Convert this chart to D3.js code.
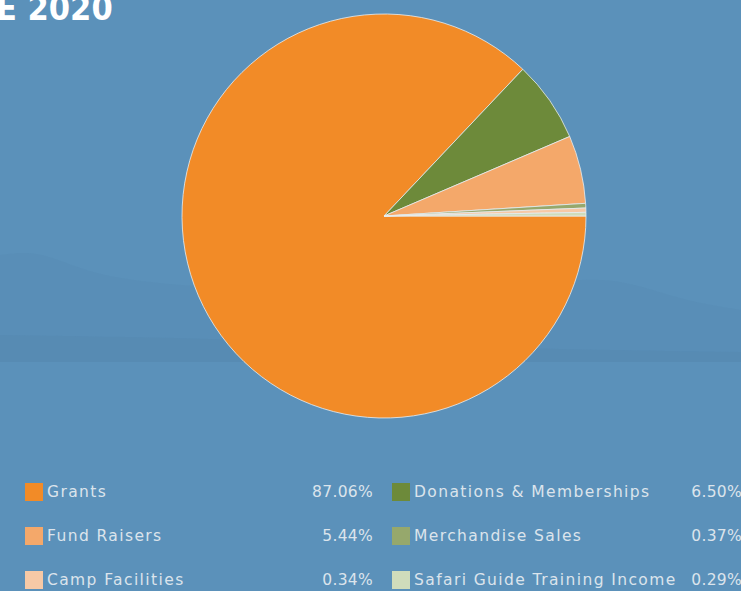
<!DOCTYPE html>
<html>
  <head>
    <style>
      body { margin: 0; background: #5b91ba; }
      svg { display: block; }
      .title { font-family: "DejaVu Sans Condensed", "DejaVu Sans", sans-serif; font-weight: bold; fill: #ffffff; }
      .legend text { font-family: "DejaVu Sans", sans-serif; font-size: 15.5px; fill: #dbe4ec; }
      .legend text.name { letter-spacing: 1.4px; }
      .legend text.value { letter-spacing: 0.3px; }
    </style>
  </head>
  <body>
    <script src="https://d3js.org/d3.v7.min.js"></script>
    <div id="chart"></div>
    <script>
      // Income sources, percentages of total
      var categories = ["Grants", "Donations & Memberships", "Fund Raisers",
                        "Merchandise Sales", "Camp Facilities", "Safari Guide Training Income"];
      var values = [87.06, 6.50, 5.44, 0.37, 0.34, 0.29];
      var valueLabels = ["87.06%", "6.50%", "5.44%", "0.37%", "0.34%", "0.29%"];
      var colors = ["#f28b27", "#6d8a3a", "#f4a86a", "#96a86c", "#f6c9a6", "#d0dcbb"];

      // legend is laid out in two columns, row by row
      var legendOrder = [0, 1, 2, 3, 4, 5];

      var width = 741, height = 591;
      var cx = 384, cy = 216, radius = 202;

      var svg = d3.select("#chart")
        .append("svg")
          .attr("width", width)
          .attr("height", height);

      // background with faint hills
      svg.append("rect")
          .attr("width", width)
          .attr("height", height)
          .attr("fill", "#5b91ba");

      var hill = d3.area()
          .x(function(d) { return d[0]; })
          .y0(height)
          .y1(function(d) { return d[1]; })
          .curve(d3.curveBasis);
      svg.append("path")
          .attr("d", hill([[0, 255], [40, 250], [90, 275], [170, 285], [260, 290], [400, 300],
                           [560, 280], [620, 278], [680, 300], [741, 310]]))
          .attr("fill", "#5689b2")
          .attr("opacity", 0.35);
      svg.append("path")
          .attr("d", hill([[0, 335], [200, 338], [400, 345], [600, 350], [741, 352]]))
          .attr("fill", "#5385ad")
          .attr("opacity", 0.3);
      svg.append("rect")
          .attr("y", 362)
          .attr("width", width)
          .attr("height", height - 362)
          .attr("fill", "#5b91ba");

      // title (cut off at the left edge in the original)
      svg.append("text")
          .attr("class", "title")
          .attr("x", -4)
          .attr("y", 20)
          .style("font-size", "34px")
          .text("E 2020");

      // pie
      var pie = d3.pie()
          .sort(null)
          .startAngle(Math.PI / 2)
          .endAngle(Math.PI / 2 + 2 * Math.PI);
      var arc = d3.arc().innerRadius(0).outerRadius(radius);

      var g = svg.append("g")
          .attr("transform", "translate(" + cx + "," + cy + ")");

      g.selectAll("path")
          .data(pie(values))
        .enter().append("path")
          .attr("d", arc)
          .attr("fill", function(d, i) { return colors[i]; })
          .attr("stroke", "#e9eef0")
          .attr("stroke-width", 0.8);

      // legend
      var col = d3.scaleOrdinal().domain([0, 1]).range([25, 392]);
      var row = d3.scalePoint().domain([0, 1, 2]).range([492, 580]);
      var valueRight = d3.scaleOrdinal().domain([0, 1]).range([373, 742]);

      var legend = svg.append("g").attr("class", "legend")
        .selectAll("g")
          .data(legendOrder)
        .enter().append("g")
          .attr("transform", function(d, i) {
            return "translate(" + col(i % 2) + "," + row(Math.floor(i / 2)) + ")";
          });

      legend.append("rect")
          .attr("y", -9)
          .attr("width", 18)
          .attr("height", 18)
          .attr("fill", function(d) { return colors[d]; });

      legend.append("text")
          .attr("class", "name")
          .attr("x", 22)
          .attr("dy", "0.35em")
          .text(function(d) { return categories[d]; });

      legend.append("text")
          .attr("class", "value")
          .attr("x", function(d, i) { return valueRight(i % 2) - col(i % 2); })
          .attr("dy", "0.35em")
          .style("text-anchor", "end")
          .text(function(d) { return valueLabels[d]; });
    </script>
  </body>
</html>
